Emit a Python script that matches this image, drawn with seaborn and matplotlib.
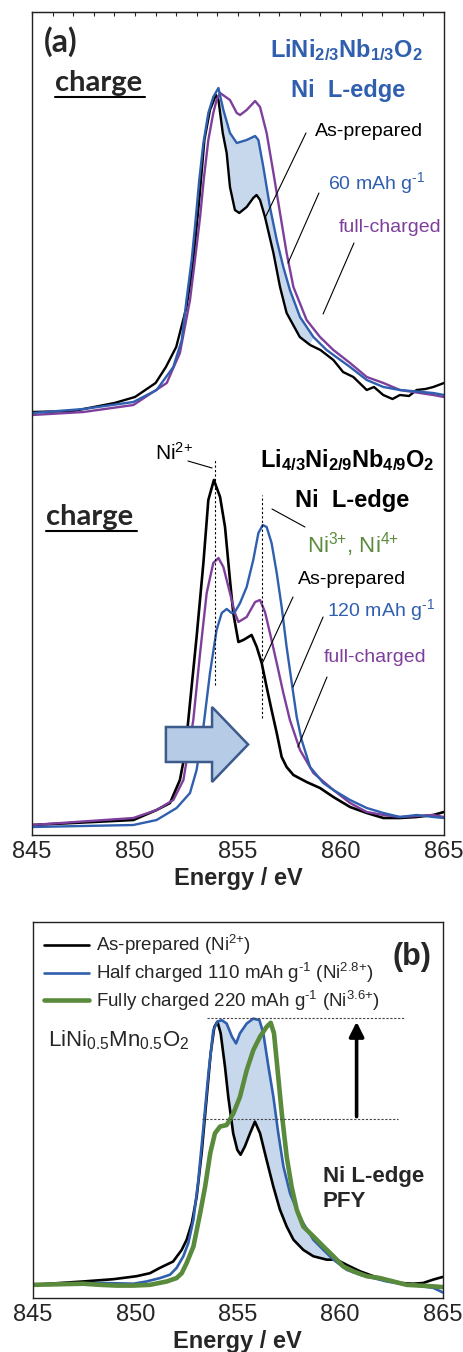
import numpy as np
import pandas as pd
import matplotlib
matplotlib.use("Agg")
import matplotlib.pyplot as plt
import seaborn as sns

# ---------- Data ----------
# panel (a), upper spectra: LiNi2/3Nb1/3O2 (offset intensity, a.u.)
top_black_e = [845.0, 847.0, 849.0, 850.0, 851.0, 851.5, 852.0, 852.5, 852.8, 853.12, 853.37, 853.64,
               853.93, 854.05, 854.26, 854.45, 854.61, 854.85, 855.06, 855.42, 855.74, 855.9, 856.07,
               856.31, 856.72, 857.04, 857.36, 858.0, 858.5, 859.0, 859.63, 860.1, 860.6, 861.25, 861.6,
               862.05, 862.5, 862.86, 863.3, 863.67, 864.1, 864.48, 865.0]
top_black_i = [42.3, 42.4, 43.2, 43.8, 45.2, 46.8, 48.8, 52.8, 56.8, 63.5, 69.5, 72.5,
               74.0, 73.5, 70.2, 68.2, 64.8, 62.5, 62.2, 62.8, 63.7, 64.0, 63.5,
               61.8, 58.2, 54.8, 52.2, 49.8, 49.0, 48.5, 47.5, 46.3, 45.8, 44.5, 44.8,
               44.0, 43.6, 44.0, 43.9, 44.5, 44.6, 44.8, 45.2]
top_blue_e = [845.0, 847.5, 849.92, 851.05, 851.86, 852.27, 852.5, 852.75, 852.91, 853.12, 853.32, 853.56,
              853.8, 854.05, 854.29, 854.61, 854.94, 855.42, 855.83, 855.99, 856.23, 856.55, 856.88,
              857.2, 857.52, 858.01, 858.66, 859.3, 860.44, 861.25, 862.06, 862.86, 864.48, 865.0]
top_blue_i = [42.2, 42.6, 43.3, 44.5, 46.8, 49.5, 53.5, 57.5, 60.8, 65.5, 69.2, 72.2,
              73.8, 74.7, 72.5, 70.2, 69.2, 69.5, 69.9, 69.5, 66.8, 62.8, 59.5,
              56.8, 54.5, 51.8, 49.8, 48.5, 46.8, 45.5, 44.8, 44.5, 44.2, 44.0]
top_purple_e = [845.0, 847.5, 849.92, 851.54, 852.18, 852.67, 852.91, 853.16, 853.35, 853.56, 853.8, 853.96,
                854.13, 854.61, 854.94, 855.1, 855.42, 855.83, 856.07, 856.39, 856.72, 857.04, 857.36,
                857.69, 858.33, 858.98, 859.63, 860.44, 861.25, 862.06, 862.86, 864.48, 865.0]
top_purple_i = [42.0, 42.3, 43.0, 45.2, 48.2, 53.5, 57.5, 61.8, 65.8, 69.5, 72.2, 73.5,
                74.2, 73.5, 72.2, 72.0, 72.5, 73.4, 72.8, 70.2, 66.2, 62.2, 58.2,
                54.8, 51.5, 49.8, 48.5, 47.2, 45.8, 45.2, 44.5, 44.0, 43.8]

# panel (a), lower spectra: Li4/3Ni2/9Nb4/9O2
bot_black_e = [845.0, 849.92, 851.05, 851.7, 852.18, 852.43, 852.67, 852.99, 853.32, 853.56, 853.83, 854.13,
               854.37, 854.61, 854.77, 855.02, 855.26, 855.66, 855.91, 856.15, 856.39, 856.63, 856.88,
               857.12, 857.36, 857.69, 858.33, 858.98, 859.63, 860.44, 861.25, 862.06, 862.86, 863.67,
               864.48, 865.0]
bot_black_i = [1.0, 1.5, 2.5, 3.2, 5.5, 8.2, 13.2, 19.8, 27.2, 33.5, 35.5, 33.8,
               30.8, 25.5, 22.2, 19.3, 19.5, 20.0, 18.8, 17.2, 14.8, 12.5, 10.2,
               7.8, 6.8, 6.0, 5.3, 4.7, 3.8, 2.8, 2.2, 1.7, 1.7, 1.8,
               2.0, 2.3]
bot_purple_e = [845.0, 849.92, 851.05, 851.86, 852.35, 852.83, 853.16, 853.48, 853.8, 854.05, 854.29, 854.61,
                854.85, 855.02, 855.42, 855.83, 856.07, 856.31, 856.55, 856.88, 857.2, 857.52, 858.01,
                858.66, 859.63, 860.44, 861.25, 862.06, 862.86, 864.48, 865.0]
bot_purple_i = [1.0, 1.7, 2.5, 3.5, 5.5, 11.5, 18.2, 24.2, 27.2, 27.7, 26.8, 24.2,
                22.2, 21.3, 21.8, 23.3, 23.5, 22.3, 20.2, 17.2, 14.2, 11.5, 8.5,
                6.2, 4.5, 3.2, 2.3, 2.0, 1.8, 2.0, 1.8]
bot_blue_e = [845.0, 849.92, 851.05, 852.02, 852.67, 852.99, 853.32, 853.64, 853.96, 854.21, 854.45, 854.69,
              854.85, 855.1, 855.42, 855.74, 855.99, 856.2, 856.39, 856.63, 856.88, 857.12, 857.36,
              857.61, 857.85, 858.09, 858.5, 859.14, 859.63, 860.44, 861.25, 862.06, 862.86, 863.67,
              864.48, 865.0]
bot_blue_i = [0.8, 1.0, 1.5, 2.7, 4.2, 6.5, 10.8, 16.2, 20.5, 22.2, 22.6, 22.2,
              22.3, 23.2, 24.8, 27.5, 30.2, 31.0, 30.8, 29.2, 26.2, 22.8, 18.8,
              15.2, 11.8, 9.5, 6.8, 5.2, 4.5, 3.5, 2.7, 2.2, 1.8, 2.0,
              1.8, 1.7]

# panel (b): LiNi0.5Mn0.5O2, PFY
b_black_e = [845.0, 847.47, 848.93, 850.07, 850.72, 851.2, 851.85, 852.27, 852.51, 852.76, 853.0, 853.24,
             853.49, 853.68, 853.86, 854.01, 854.17, 854.38, 854.54, 854.78, 854.98, 855.14, 855.35,
             855.6, 855.84, 856.09, 856.41, 856.74, 857.06, 857.39, 857.72, 858.2, 858.69, 859.34,
             859.83, 860.32, 860.97, 861.62, 862.27, 862.92, 863.57, 864.05, 864.54, 865.0]
b_black_i = [3.5, 4.4, 5.0, 5.8, 6.6, 8.0, 9.7, 12.8, 15.5, 19.9, 27.0, 38.5,
             53.5, 65.0, 72.1, 73.5, 70.4, 61.5, 53.5, 43.8, 39.4, 38.1, 40.3,
             43.8, 46.9, 43.8, 36.7, 29.6, 23.5, 19.0, 15.5, 12.8, 11.1, 10.2,
             10.2, 8.8, 7.1, 5.8, 4.9, 4.0, 3.8, 4.0, 4.9, 5.6]
b_blue_e = [845.0, 848.28, 849.91, 850.56, 851.21, 851.7, 852.02, 852.35, 852.59, 852.84, 853.08, 853.33,
            853.57, 853.81, 854.01, 854.22, 854.46, 854.72, 854.92, 855.11, 855.44, 855.76, 856.06,
            856.25, 856.5, 856.74, 856.98, 857.23, 857.55, 857.88, 858.2, 858.69, 859.18, 859.67,
            860.32, 860.97, 861.62, 862.27, 862.92, 863.73, 864.54, 865.0]
b_blue_i = [3.5, 4.0, 3.8, 4.4, 5.3, 6.2, 8.0, 11.1, 14.6, 20.8, 31.4, 45.6,
            59.7, 71.2, 73.5, 73.9, 73.0, 69.5, 67.7, 70.4, 73.0, 74.3, 73.9,
            70.4, 61.5, 53.5, 43.8, 35.0, 27.9, 23.5, 19.9, 15.5, 12.8, 10.2,
            7.5, 6.2, 5.3, 4.4, 3.8, 3.3, 2.7, 1.5]
b_green_e = [845.0, 847.47, 848.28, 849.1, 849.91, 850.72, 851.54, 852.02, 852.27, 852.51, 852.84, 853.17,
             853.41, 853.66, 853.89, 854.14, 854.46, 854.79, 855.11, 855.44, 855.76, 856.09, 856.41,
             856.61, 856.77, 856.93, 857.15, 857.39, 857.63, 857.88, 858.2, 858.69, 859.18, 859.67,
             860.15, 860.64, 861.29, 861.94, 862.59, 863.24, 863.89, 864.54, 865.0]
b_green_i = [3.5, 3.8, 3.5, 3.3, 3.3, 3.5, 4.4, 5.3, 6.6, 9.3, 13.7, 22.6,
             29.6, 38.5, 43.8, 45.6, 46.0, 49.1, 53.5, 60.6, 65.9, 69.5, 72.1,
             73.2, 70.4, 61.5, 49.1, 37.6, 29.6, 23.5, 19.0, 16.4, 13.7, 11.1,
             8.4, 7.1, 5.8, 5.3, 4.4, 3.5, 3.3, 3.1, 2.9]

x_ticks = [845, 850, 855, 860, 865]
legend_labels = [r"As-prepared (Ni$^{2{+}}$)",
                 r"Half charged 110 mAh g$^{\text{-}1}$ (Ni$^{2.8{+}}$)",
                 r"Fully charged 220 mAh g$^{\text{-}1}$ (Ni$^{3.6{+}}$)"]

# ---------- Theme ----------
sns.set_style("white")
plt.rcParams["font.family"] = ["Liberation Sans", "DejaVu Sans"]
plt.rcParams["mathtext.fontset"] = "custom"
plt.rcParams["mathtext.rm"] = "Liberation Sans"
plt.rcParams["mathtext.bf"] = "Liberation Sans:bold"
plt.rcParams["mathtext.default"] = "regular"

BLACK = "#000000"
BLUE = "#2f5fae"
PURPLE = "#7e3f9c"
GREEN = "#5a8a3c"
FILL = "#c7d7ec"


def line(ax, e, i, color, lw=1.7, label=None):
    d = pd.DataFrame({"E": e, "I": i})
    sns.lineplot(data=d, x="E", y="I", ax=ax, color=color, lw=lw, sort=False,
                 estimator=None, label=label, legend=label is not None)


def fill_between_curves(ax, e1, i1, e2, i2, lo, hi):
    e1, i1, e2, i2 = map(np.asarray, (e1, i1, e2, i2))
    m1 = (e1 >= lo) & (e1 <= hi)
    m2 = (e2 >= lo) & (e2 <= hi)
    px = np.concatenate([e1[m1], e2[m2][::-1]])
    py = np.concatenate([i1[m1], i2[m2][::-1]])
    ax.fill(px, py, color=FILL, lw=0, zorder=0)


def style_x(ax):
    ax.set_xlim(845, 865)
    ax.set_xticks(x_ticks)
    ax.set_xticks(np.arange(845, 866, 1), minor=True)
    ax.tick_params(axis="x", which="major", direction="in", length=6, width=0.8,
                   labelsize=17, pad=4)
    ax.tick_params(axis="x", which="minor", direction="in", length=3, width=0.8)
    ax.set_yticks([])
    ax.set_ylabel("")
    ax.set_xlabel("Energy / eV", fontsize=17, fontweight="bold", labelpad=3)
    for s in ax.spines.values():
        s.set_linewidth(1.0)
        s.set_color("#222222")


fig = plt.figure(figsize=(4.64, 13.52), dpi=100)
ax_a = fig.add_axes([32 / 464, 1 - 835 / 1352, 412 / 464, 823 / 1352])
ax_b = fig.add_axes([32.7 / 464, 1 - 1298 / 1352, 410 / 464, 376 / 1352])

# ---------- (a) ----------
fill_between_curves(ax_a, top_blue_e, top_blue_i, top_black_e, top_black_i, 854.0, 858.7)
line(ax_a, top_black_e, top_black_i, BLACK)
line(ax_a, top_purple_e, top_purple_i, PURPLE)
line(ax_a, top_blue_e, top_blue_i, BLUE)
line(ax_a, bot_black_e, bot_black_i, BLACK, lw=1.9)
line(ax_a, bot_purple_e, bot_purple_i, PURPLE)
line(ax_a, bot_blue_e, bot_blue_i, BLUE)
ax_a.set_ylim(0, 82.3)
style_x(ax_a)
top = ax_a.secondary_xaxis("top")
top.set_xticks(np.arange(845, 866, 1))
top.tick_params(direction="in", length=3, width=0.8, labeltop=False)

# peak guides
ax_a.plot([853.88, 853.88], [15.0, 37.5], ls=(0, (2, 2)), lw=0.8, color="k")
ax_a.plot([856.18, 856.18], [11.7, 34.0], ls=(0, (2, 2)), lw=0.8, color="k")

# shift arrow
ax_a.arrow(851.5, 9.05, 3.99, 0, width=3.5, head_width=7.5, head_length=1.75,
           length_includes_head=True, fc="#b5cbe6", ec="#3c5a8c", lw=1.8, zorder=5)

# labels
ax_a.text(845.6, 79.3, "(a)", fontsize=23, fontweight="bold", family="Lato", va="center")
for y0, x0, x1 in [(75.2, 846.12, 850.49), (31.8, 845.68, 850.10)]:
    ax_a.text(x0, y0, "charge", fontsize=21, fontweight="bold", family="Lato", va="center")
    ax_a.plot([x0, x1], [y0 - 1.4, y0 - 1.4], color="k", lw=1.5)

ax_a.text(864.0, 78.5, r"$\mathbf{LiNi_{2/3}Nb_{1/3}O_2}$", color=BLUE, fontsize=17,
          ha="right", va="center")
ax_a.text(860.34, 74.5, "Ni  L-edge", color=BLUE, fontsize=17, fontweight="bold",
          ha="center", va="center")
ax_a.text(858.74, 70.3, "As-prepared", color=BLACK, fontsize=14, va="center")
ax_a.text(859.37, 65.2, r"60 mAh g$^{\text{-}1}$", color=BLUE, fontsize=14, va="center")
ax_a.text(859.9, 60.8, "full-charged", color=PURPLE, fontsize=14, va="center")

ax_a.text(850.97, 38.2, r"Ni$^{2{+}}$", color=BLACK, fontsize=15, va="center")
ax_a.text(864.56, 37.5, r"$\mathbf{Li_{4/3}Ni_{2/9}Nb_{4/9}O_2}$", color=BLACK, fontsize=17,
          ha="right", va="center")
ax_a.text(860.53, 33.5, "Ni  L-edge", color=BLACK, fontsize=17, fontweight="bold",
          ha="center", va="center")
ax_a.text(858.35, 29.0, r"Ni$^{3{+}}$, Ni$^{4{+}}$", color=GREEN, fontsize=16, va="center")
ax_a.text(857.91, 25.6, "As-prepared", color=BLACK, fontsize=14, va="center")
ax_a.text(859.32, 22.5, r"120 mAh g$^{\text{-}1}$", color=BLUE, fontsize=14, va="center")
ax_a.text(859.17, 17.8, "full-charged", color=PURPLE, fontsize=14, va="center")

leaders = [((858.30, 70.2), (856.31, 61.7)), ((858.93, 64.2), (857.43, 57.2)),
           ((860.63, 59.2), (859.13, 52.1)), ((852.57, 37.4), (853.74, 36.7)),
           ((856.65, 32.6), (858.25, 30.8)), ((857.67, 23.8), (856.21, 17.3)),
           ((859.13, 21.8), (857.67, 14.8)), ((859.32, 15.8), (857.91, 8.8))]
for (x0, y0), (x1, y1) in leaders:
    ax_a.plot([x0, x1], [y0, y1], color="k", lw=0.8)

# ---------- (b) ----------
fill_between_curves(ax_b, b_blue_e, b_blue_i, b_black_e, b_black_i, 854.0, 860.5)
line(ax_b, b_black_e, b_black_i, BLACK, lw=1.9, label=legend_labels[0])
line(ax_b, b_blue_e, b_blue_i, BLUE, lw=1.9, label=legend_labels[1])
line(ax_b, b_green_e, b_green_i, GREEN, lw=3.3, label=legend_labels[2])
ax_b.set_ylim(0, 100)
style_x(ax_b)
ax_b.tick_params(axis="x", which="both", top=False)

ax_b.plot([853.49, 863.16], [74.6, 74.6], ls=(0, (2, 1.5)), lw=0.8, color="#444444")
ax_b.plot([853.24, 862.84], [47.5, 47.5], ls=(0, (2, 1.5)), lw=0.8, color="#444444")
ax_b.annotate("", xy=(860.8, 74.2), xytext=(860.8, 47.5),
              arrowprops=dict(arrowstyle="-|>", lw=2.6, color="k", mutation_scale=22))

ax_b.text(864.46, 90.6, "(b)", fontsize=22, fontweight="bold", ha="right", va="center")
ax_b.text(845.77, 68.6, "LiNi$_{0.5}$Mn$_{0.5}$O$_2$", fontsize=16, va="center")
ax_b.text(859.15, 35.0, "Ni L-edge\nPFY", fontsize=16, fontweight="bold", va="top",
          linespacing=1.25)

ax_b.legend(loc="upper left", bbox_to_anchor=(0.0, 1.0), frameon=False, fontsize=13.5,
            handlelength=2.4, handletextpad=0.4, labelspacing=0.2, borderaxespad=0.3,
            borderpad=0.3)

fig.savefig("out.png", dpi=100)
